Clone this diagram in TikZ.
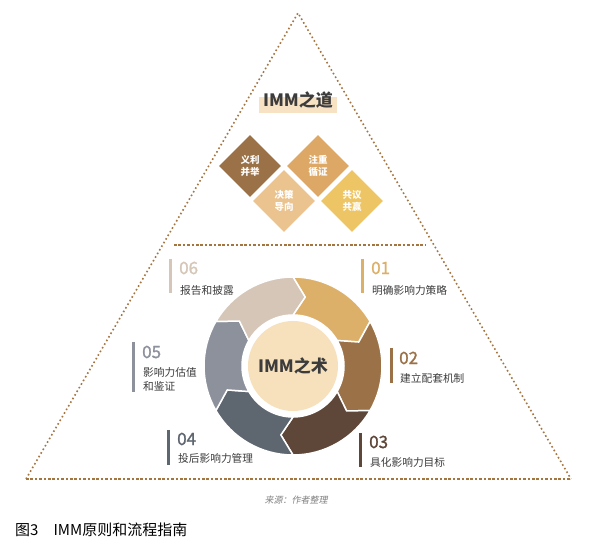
\documentclass[tikz,border=0pt]{standalone}
\usepackage{fontspec}
\setmainfont{Noto Sans CJK SC}
\newfontfamily\cjkslant{Noto Sans CJK SC}[FakeSlant=0.2]
\newfontfamily\numfont{Noto Sans CJK SC}[FakeBold=1.2]
\usetikzlibrary{shapes.geometric}
\definecolor{dotc}{HTML}{A5753F}
\definecolor{c01}{HTML}{DDB06A}
\definecolor{c02}{HTML}{9B7147}
\definecolor{c03}{HTML}{5E4639}
\definecolor{c04}{HTML}{5E6670}
\definecolor{c05}{HTML}{8C919C}
\definecolor{c06}{HTML}{D5C6B8}
\definecolor{cream}{HTML}{F7E1BC}
\definecolor{titlebg}{HTML}{F7E3C4}
\definecolor{dA}{HTML}{9B7148}
\definecolor{dB}{HTML}{DDA865}
\definecolor{dC}{HTML}{EAC38E}
\definecolor{dD}{HTML}{EEC565}
\definecolor{txt}{HTML}{3C3C3C}
\begin{document}
\begin{tikzpicture}[x=1pt,y=1pt,
  dotline/.style={dotc, line width=1.6, dash pattern=on 1.6 off 2.6},
  dashline/.style={dotc, line width=1.6, dash pattern=on 2.6 off 1.8},
  dia/.style={diamond, inner sep=0, minimum width=62, minimum height=62, text=white, align=center, font=\bfseries\fontsize{9.5}{12}\selectfont},
  num/.style={anchor=west, inner sep=0, font=\numfont\fontsize{17}{17}\selectfont},
  lbl/.style={anchor=west, inner sep=0, text=txt, align=left, font=\fontsize{10.7}{14}\selectfont},
  bar/.style={line width=3},
  seg/.style={draw=white, line width=1.5, line join=round}]
\useasboundingbox (0,0) rectangle (600,554);
\fill[white] (0,0) rectangle (600,554);
% triangle
\coordinate (apex) at (298,541);
\coordinate (bl) at (26,75);
\coordinate (br) at (571,75);
\draw[dotline] (bl) -- (apex) -- (br);
\draw[dashline] (bl) -- (br);
\coordinate (sl) at (174,309);
\coordinate (sr) at (425,309);
\draw[dashline] (sl) -- (sr);
% title
\node[fill=titlebg, minimum width=78, minimum height=16, inner sep=0] (tbox) at (298,449) {};
\node[text=txt, inner sep=0, font=\bfseries\fontsize{17}{17}\selectfont] (title) at (298,454) {IMM之道};
% diamonds
\node[dia, fill=dA] (dA) at (250,388) {义利\\并举};
\node[dia, fill=dB] (dB) at (318,388) {注重\\循证};
\node[dia, fill=dC] (dC) at (284,353) {决策\\导向};
\node[dia, fill=dD] (dD) at (352,353) {共议\\共赢};
% ring
\begin{scope}[shift={(293,188)}]
\foreach \a/\c in {90/c01, 30/c02, -30/c03, -90/c04, -150/c05, 150/c06}{
  \pgfmathsetmacro\b{\a-60}
  \fill[\c, seg] (\a:89) arc[start angle=\a, end angle=\b, radius=89] -- (\b-10:70) -- (\b:51)
     arc[start angle=\b, end angle=\a, radius=51] -- (\a-10:70) -- cycle;
}
\end{scope}
\node[circle, fill=cream, minimum size=90, inner sep=0, text=txt, font=\bfseries\fontsize{17}{17}\selectfont] (core) at (293,188) {IMM之术};
% labels
\coordinate (b06a) at (170,295); \coordinate (b06b) at (170,261);
\draw[bar, c06] (b06a) -- (b06b);
\node[num, text=c06] (n06) at (179,286) {06};
\node[lbl] (t06) at (180,264) {报告和披露};
\coordinate (b01a) at (362,295); \coordinate (b01b) at (362,261);
\draw[bar, c01] (b01a) -- (b01b);
\node[num, text=c01] (n01) at (371,286) {01};
\node[lbl] (t01) at (372,264) {明确影响力策略};
\coordinate (b02a) at (391,206); \coordinate (b02b) at (391,171);
\draw[bar, c02] (b02a) -- (b02b);
\node[num, text=c02] (n02) at (399,196) {02};
\node[lbl] (t02) at (400,176) {建立配套机制};
\coordinate (b03a) at (360,121); \coordinate (b03b) at (360,87);
\draw[bar, c03] (b03a) -- (b03b);
\node[num, text=c03] (n03) at (369,112) {03};
\node[lbl] (t03) at (370,92) {具化影响力目标};
\coordinate (b04a) at (168,124); \coordinate (b04b) at (168,89);
\draw[bar, c04] (b04a) -- (b04b);
\node[num, text=c04] (n04) at (177,115) {04};
\node[lbl] (t04) at (178,96) {投后影响力管理};
\coordinate (b05a) at (133,212); \coordinate (b05b) at (133,162);
\draw[bar, c05] (b05a) -- (b05b);
\node[num, text=c05] (n05) at (142,202) {05};
\node[lbl] (t05) at (143,175) {影响力估值\\和鉴证};
% source and caption
\node[text=gray, inner sep=0, font=\cjkslant\fontsize{9}{9}\selectfont] (src) at (296,54) {来源：作者整理};
\node[anchor=west, inner sep=0, text=black, font=\fontsize{15}{15}\selectfont] (cap) at (15,24) {图3\quad IMM原则和流程指南};
\end{tikzpicture}
\end{document}
